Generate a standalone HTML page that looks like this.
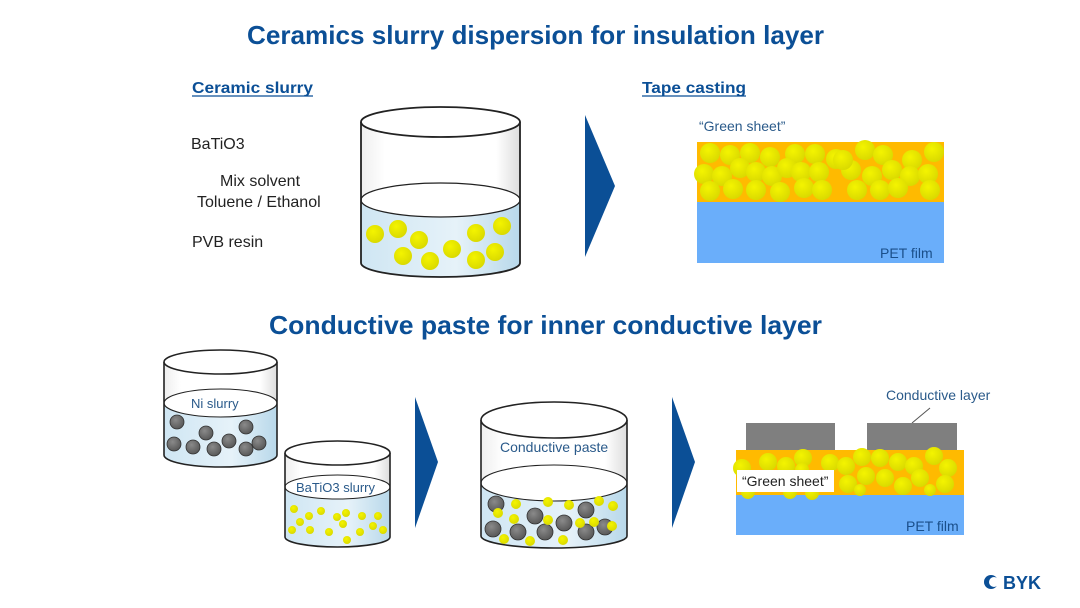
<!DOCTYPE html>
<html><head><meta charset="utf-8"><style>
html,body{margin:0;padding:0;background:#fff;}
svg{display:block;font-family:"Liberation Sans",sans-serif;}
</style></head><body>
<svg width="1080" height="608" viewBox="0 0 1080 608" xmlns="http://www.w3.org/2000/svg">
<defs>
<radialGradient id="y" cx="0.4" cy="0.35" r="0.7"><stop offset="0" stop-color="#f4f400"/><stop offset="1" stop-color="#d8d800"/></radialGradient>
<radialGradient id="g" cx="0.4" cy="0.35" r="0.7"><stop offset="0" stop-color="#8a8a8a"/><stop offset="1" stop-color="#555"/></radialGradient>
<linearGradient id="liq" x1="0" y1="0" x2="1" y2="0"><stop offset="0" stop-color="#cfe6f3"/><stop offset="0.6" stop-color="#e6f2f9"/><stop offset="1" stop-color="#b8d8ea"/></linearGradient>
<linearGradient id="wall" x1="0" y1="0" x2="1" y2="0"><stop offset="0" stop-color="#eee"/><stop offset="0.15" stop-color="#fff"/><stop offset="0.85" stop-color="#fff"/><stop offset="1" stop-color="#ddd"/></linearGradient>
</defs>

<text x="247" y="44" font-size="26" font-weight="bold" fill="#0b4f96" textLength="577" lengthAdjust="spacingAndGlyphs">Ceramics slurry dispersion for insulation layer</text>
<text x="269" y="334" font-size="26" font-weight="bold" fill="#0b4f96" textLength="553" lengthAdjust="spacingAndGlyphs">Conductive paste for inner conductive layer</text>
<text x="192" y="93" font-size="16" font-weight="bold" fill="#0b4f96" textLength="121" lengthAdjust="spacingAndGlyphs">Ceramic slurry</text>
<line x1="192" y1="96" x2="313" y2="96" stroke="#0b4f96" stroke-width="1.3"/>
<text x="642" y="93" font-size="16" font-weight="bold" fill="#0b4f96" textLength="104" lengthAdjust="spacingAndGlyphs">Tape casting</text>
<line x1="642" y1="96" x2="746" y2="96" stroke="#0b4f96" stroke-width="1.3"/>

<text x="191" y="149" font-size="16" fill="#222">BaTiO3</text>
<text x="220" y="186" font-size="16" fill="#222">Mix solvent</text>
<text x="197" y="207" font-size="16" fill="#222">Toluene / Ethanol</text>
<text x="192" y="247" font-size="16" fill="#222">PVB resin</text>

<path d="M361 122 L361 263 A79.5 14 0 0 0 520 263 L520 122 Z" fill="url(#wall)"/>
<path d="M361 200 L361 263 A79.5 14 0 0 0 520 263 L520 200 Z" fill="url(#liq)"/>
<ellipse cx="440.5" cy="200" rx="79.5" ry="17" fill="#fff" stroke="#222" stroke-width="1.2"/>
<g fill="url(#y)">
<circle cx="375" cy="234" r="9"/><circle cx="398" cy="229" r="9"/><circle cx="419" cy="240" r="9"/>
<circle cx="403" cy="256" r="9"/><circle cx="430" cy="261" r="9"/><circle cx="452" cy="249" r="9"/>
<circle cx="476" cy="233" r="9"/><circle cx="502" cy="226" r="9"/><circle cx="495" cy="252" r="9"/><circle cx="476" cy="260" r="9"/>
</g>
<path d="M361 122 L361 263 A79.5 14 0 0 0 520 263 L520 122" fill="none" stroke="#222" stroke-width="1.8"/>
<ellipse cx="440.5" cy="122" rx="79.5" ry="15" fill="#fff" stroke="#222" stroke-width="1.8"/>

<polygon points="585,115 615,186 585,257" fill="#0b4f96"/>

<text x="699" y="131" font-size="14" fill="#2a5a8a">“Green sheet”</text>
<rect x="697" y="142" width="247" height="60" fill="#ffba00"/>
<rect x="697" y="202" width="247" height="61" fill="#6aaefa"/>
<text x="880" y="258" font-size="14" fill="#1a4f8a">PET film</text>
<g fill="url(#y)">
<circle cx="710" cy="153" r="10"/><circle cx="730" cy="155" r="10"/><circle cx="750" cy="153" r="10"/><circle cx="770" cy="157" r="10"/>
<circle cx="795" cy="154" r="10"/><circle cx="815" cy="154" r="10"/><circle cx="836" cy="159" r="10"/><circle cx="865" cy="150" r="10"/>
<circle cx="883" cy="155" r="10"/><circle cx="912" cy="160" r="10"/><circle cx="934" cy="152" r="10"/>
<circle cx="704" cy="174" r="10"/><circle cx="722" cy="176" r="10"/><circle cx="740" cy="168" r="10"/><circle cx="756" cy="172" r="10"/>
<circle cx="772" cy="176" r="10"/><circle cx="787" cy="168" r="10"/><circle cx="801" cy="172" r="10"/><circle cx="819" cy="172" r="10"/>
<circle cx="851" cy="170" r="10"/><circle cx="872" cy="176" r="10"/><circle cx="892" cy="170" r="10"/><circle cx="910" cy="176" r="10"/><circle cx="928" cy="174" r="10"/>
<circle cx="710" cy="191" r="10"/><circle cx="733" cy="189" r="10"/><circle cx="756" cy="190" r="10"/><circle cx="780" cy="192" r="10"/>
<circle cx="804" cy="188" r="10"/><circle cx="822" cy="190" r="10"/><circle cx="857" cy="190" r="10"/><circle cx="880" cy="190" r="10"/>
<circle cx="898" cy="188" r="10"/><circle cx="930" cy="190" r="10"/><circle cx="843" cy="160" r="10"/>
</g>

<path d="M164 362 L164 455 A56.5 12 0 0 0 277 455 L277 362 Z" fill="url(#wall)"/>
<path d="M164 403 L164 455 A56.5 12 0 0 0 277 455 L277 403 Z" fill="url(#liq)"/>
<ellipse cx="220.5" cy="403" rx="56.5" ry="14" fill="#fff" stroke="#222" stroke-width="1.1"/>
<text x="191" y="408" font-size="13" fill="#2a5a8a">Ni slurry</text>
<g fill="url(#g)" stroke="#333" stroke-width="0.8">
<circle cx="177" cy="422" r="7"/><circle cx="206" cy="433" r="7"/><circle cx="246" cy="427" r="7"/>
<circle cx="174" cy="444" r="7"/><circle cx="193" cy="447" r="7"/><circle cx="214" cy="449" r="7"/><circle cx="229" cy="441" r="7"/>
<circle cx="246" cy="449" r="7"/><circle cx="259" cy="443" r="7"/>
</g>
<path d="M164 362 L164 455 A56.5 12 0 0 0 277 455 L277 362" fill="none" stroke="#222" stroke-width="1.6"/>
<ellipse cx="220.5" cy="362" rx="56.5" ry="12" fill="#fff" stroke="#222" stroke-width="1.6"/>

<path d="M285 453 L285 537 A52.5 10 0 0 0 390 537 L390 453 Z" fill="url(#wall)"/>
<path d="M285 487 L285 537 A52.5 10 0 0 0 390 537 L390 487 Z" fill="url(#liq)"/>
<ellipse cx="337.5" cy="487" rx="52.5" ry="12" fill="#fff" stroke="#222" stroke-width="1.1"/>
<text x="296" y="492" font-size="13" fill="#2a5a8a">BaTiO3 slurry</text>
<g fill="url(#y)">
<circle cx="294" cy="509" r="4"/><circle cx="309" cy="516" r="4"/><circle cx="321" cy="511" r="4"/><circle cx="337" cy="517" r="4"/>
<circle cx="300" cy="522" r="4"/><circle cx="346" cy="513" r="4"/><circle cx="362" cy="516" r="4"/><circle cx="378" cy="516" r="4"/>
<circle cx="292" cy="530" r="4"/><circle cx="310" cy="530" r="4"/><circle cx="329" cy="532" r="4"/><circle cx="343" cy="524" r="4"/>
<circle cx="360" cy="532" r="4"/><circle cx="373" cy="526" r="4"/><circle cx="383" cy="530" r="4"/><circle cx="347" cy="540" r="4"/>
</g>
<path d="M285 453 L285 537 A52.5 10 0 0 0 390 537 L390 453" fill="none" stroke="#222" stroke-width="1.6"/>
<ellipse cx="337.5" cy="453" rx="52.5" ry="12" fill="#fff" stroke="#222" stroke-width="1.6"/>

<polygon points="415,397 438,462 415,528" fill="#0b4f96"/>

<path d="M481 420 L481 536 A73 12 0 0 0 627 536 L627 420 Z" fill="url(#wall)"/>
<path d="M481 483 L481 536 A73 12 0 0 0 627 536 L627 483 Z" fill="url(#liq)"/>
<ellipse cx="554" cy="483" rx="73" ry="18" fill="#fff" stroke="#222" stroke-width="1.1"/>
<text x="500" y="452" font-size="14" fill="#2a5a8a">Conductive paste</text>
<g fill="url(#g)" stroke="#333" stroke-width="0.8">
<circle cx="496" cy="504" r="8"/><circle cx="535" cy="516" r="8"/><circle cx="586" cy="510" r="8"/>
<circle cx="493" cy="529" r="8"/><circle cx="518" cy="532" r="8"/><circle cx="545" cy="532" r="8"/><circle cx="564" cy="523" r="8"/>
<circle cx="586" cy="532" r="8"/><circle cx="605" cy="527" r="8"/>
</g>
<g fill="url(#y)">
<circle cx="516" cy="504" r="5"/><circle cx="548" cy="502" r="5"/><circle cx="569" cy="505" r="5"/><circle cx="599" cy="501" r="5"/><circle cx="613" cy="506" r="5"/>
<circle cx="498" cy="513" r="5"/><circle cx="514" cy="519" r="5"/><circle cx="548" cy="520" r="5"/><circle cx="580" cy="523" r="5"/><circle cx="594" cy="522" r="5"/>
<circle cx="612" cy="526" r="5"/><circle cx="504" cy="539" r="5"/><circle cx="530" cy="541" r="5"/><circle cx="563" cy="540" r="5"/>
</g>
<path d="M481 420 L481 536 A73 12 0 0 0 627 536 L627 420" fill="none" stroke="#222" stroke-width="1.6"/>
<ellipse cx="554" cy="420" rx="73" ry="18" fill="#fff" stroke="#222" stroke-width="1.6"/>

<polygon points="672,397 695,462 672,528" fill="#0b4f96"/>

<text x="886" y="400" font-size="14" fill="#2a5a8a">Conductive layer</text>
<line x1="930" y1="408" x2="912" y2="423" stroke="#555" stroke-width="1"/>
<rect x="746" y="423" width="89" height="27" fill="#7f7f7f"/>
<rect x="867" y="423" width="90" height="27" fill="#7f7f7f"/>
<rect x="736" y="450" width="228" height="45" fill="#ffba00"/>
<rect x="736" y="495" width="228" height="40" fill="#6aaefa"/>
<text x="906" y="531" font-size="14" fill="#1a4f8a">PET film</text>
<g fill="url(#y)">
<circle cx="742" cy="468" r="9"/><circle cx="768" cy="462" r="9"/><circle cx="786" cy="466" r="9"/><circle cx="803" cy="458" r="9"/>
<circle cx="830" cy="463" r="9"/><circle cx="846" cy="466" r="9"/><circle cx="862" cy="457" r="9"/><circle cx="880" cy="458" r="9"/>
<circle cx="898" cy="462" r="9"/><circle cx="914" cy="466" r="9"/><circle cx="934" cy="456" r="9"/><circle cx="948" cy="468" r="9"/>
<circle cx="848" cy="484" r="9"/><circle cx="866" cy="476" r="9"/><circle cx="885" cy="478" r="9"/><circle cx="903" cy="486" r="9"/>
<circle cx="920" cy="478" r="9"/><circle cx="945" cy="484" r="9"/><circle cx="860" cy="490" r="6"/><circle cx="930" cy="490" r="6"/>
<circle cx="748" cy="492" r="7"/><circle cx="790" cy="492" r="7"/><circle cx="812" cy="493" r="7"/><circle cx="802" cy="470" r="7"/>
</g>
<rect x="737" y="470" width="97" height="22" fill="#fff"/>
<text x="742" y="486" font-size="14" fill="#222">“Green sheet”</text>

<circle cx="991" cy="582" r="7" fill="#0b4f96"/>
<circle cx="994" cy="582" r="5" fill="#fff"/>
<text x="1003" y="589" font-size="18" font-weight="bold" fill="#0b4f96">BYK</text>
</svg>
</body></html>
